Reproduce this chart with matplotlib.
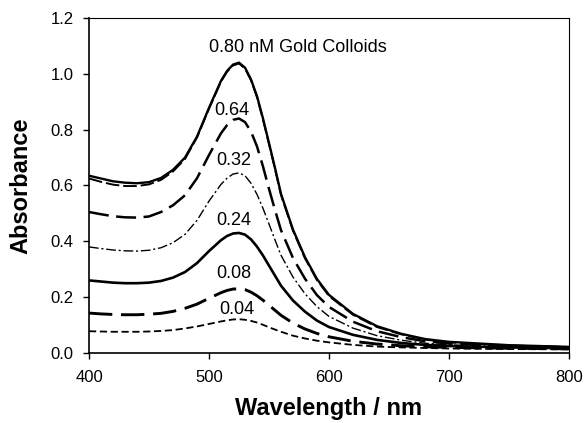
import numpy as np
import matplotlib.pyplot as plt

plt.rcParams["font.family"] = ["Liberation Sans", "DejaVu Sans"]

# wavelength grid (nm)
wavelength = [400, 410, 420, 430, 440, 450, 460, 470, 480, 490, 500, 510,
              515, 520, 525, 530, 535, 540, 545, 550, 555, 560,
              570, 580, 590, 600, 620, 640, 660, 680, 700, 750, 800]

# absorbance
abs_080 = [0.635, 0.625, 0.615, 0.610, 0.608, 0.612, 0.627, 0.656, 0.700, 0.775, 0.878, 0.975,
           1.010, 1.033, 1.040, 1.022, 0.980, 0.920, 0.840, 0.752, 0.663, 0.570,
           0.442, 0.343, 0.265, 0.208, 0.140, 0.096, 0.069, 0.050, 0.040, 0.028, 0.022]
abs_080b = [0.625, 0.613, 0.603, 0.598, 0.598, 0.604, 0.620, 0.650, 0.695, 0.772, 0.875, 0.972,
            1.007, 1.030, 1.037, 1.019, 0.977, 0.916, 0.836, 0.748, 0.659, 0.566,
            0.438, 0.339, 0.261, 0.204, 0.137, 0.093, 0.067, 0.048, 0.038, 0.027, 0.021]
abs_064 = [0.505, 0.497, 0.490, 0.486, 0.485, 0.489, 0.505, 0.529, 0.565, 0.626, 0.709, 0.787,
           0.816, 0.835, 0.840, 0.827, 0.793, 0.740, 0.668, 0.588, 0.512, 0.440,
           0.340, 0.266, 0.207, 0.165, 0.112, 0.078, 0.057, 0.042, 0.034, 0.025, 0.020]
abs_032 = [0.380, 0.374, 0.369, 0.366, 0.365, 0.368, 0.377, 0.395, 0.425, 0.475, 0.544, 0.604,
           0.626, 0.641, 0.645, 0.635, 0.608, 0.568, 0.518, 0.462, 0.405, 0.350,
           0.272, 0.212, 0.166, 0.131, 0.089, 0.062, 0.046, 0.035, 0.029, 0.023, 0.019]
abs_024 = [0.260, 0.256, 0.252, 0.250, 0.250, 0.252, 0.258, 0.270, 0.290, 0.322, 0.365, 0.404,
           0.419, 0.428, 0.430, 0.424, 0.407, 0.381, 0.349, 0.313, 0.277, 0.241,
           0.188, 0.148, 0.116, 0.093, 0.065, 0.047, 0.036, 0.029, 0.025, 0.020, 0.017]
abs_008 = [0.143, 0.140, 0.138, 0.137, 0.137, 0.139, 0.142, 0.149, 0.160, 0.175, 0.196, 0.216,
           0.224, 0.229, 0.230, 0.227, 0.218, 0.205, 0.189, 0.171, 0.153, 0.135,
           0.107, 0.086, 0.070, 0.058, 0.042, 0.032, 0.026, 0.022, 0.020, 0.017, 0.015]
abs_004 = [0.078, 0.077, 0.076, 0.076, 0.076, 0.077, 0.079, 0.082, 0.088, 0.095, 0.104, 0.113,
           0.117, 0.120, 0.121, 0.119, 0.115, 0.109, 0.101, 0.092, 0.084, 0.076,
           0.062, 0.052, 0.044, 0.038, 0.029, 0.023, 0.020, 0.018, 0.016, 0.014, 0.013]

labels = ["0.80 nM Gold Colloids", "0.64", "0.32", "0.24", "0.08", "0.04"]
label_x = [574, 519, 521, 521, 521, 523]
label_y = [1.095, 0.867, 0.688, 0.473, 0.285, 0.156]

fig = plt.figure(figsize=(5.84, 4.23), dpi=100)
ax = fig.add_axes([0.1524, 0.1655, 0.8219, 0.792])

ax.plot(wavelength, abs_080b, color="black", lw=1.4, dashes=(7, 2))
ax.plot(wavelength, abs_080, color="black", lw=1.7)
ax.plot(wavelength, abs_064, color="black", lw=1.8, dashes=(8, 3))
ax.plot(wavelength, abs_032, color="black", lw=1.0, dashes=(7, 2, 1.5, 2))
ax.plot(wavelength, abs_024, color="black", lw=1.9)
ax.plot(wavelength, abs_008, color="black", lw=2.1, dashes=(8, 3))
ax.plot(wavelength, abs_004, color="black", lw=1.3, dashes=(4, 2))

for t, x, y in zip(labels, label_x, label_y):
    ax.text(x, y, t, ha="center", va="center", fontsize=13)

ax.set_xlim(400, 800)
ax.set_ylim(0, 1.2)
ax.set_xticks([400, 500, 600, 700, 800])
ax.set_yticks([0.0, 0.2, 0.4, 0.6, 0.8, 1.0, 1.2])
ax.set_yticklabels(["0.0", "0.2", "0.4", "0.6", "0.8", "1.0", "1.2"])
ax.tick_params(direction="out", length=4, width=1, labelsize=12)
ax.tick_params(axis="x", pad=8)
ax.tick_params(axis="y", pad=7)
for s in ax.spines.values():
    s.set_linewidth(0.8)
ax.spines["left"].set_linewidth(1.2)
ax.spines["bottom"].set_linewidth(1.2)

ax.set_xlabel("Wavelength / nm", fontsize=17, fontweight="bold")
ax.set_ylabel("Absorbance", fontsize=17, fontweight="bold")
ax.xaxis.set_label_coords(0.5, -0.13)
ax.yaxis.set_label_coords(-0.118, 0.5)

fig.savefig("out.png", dpi=100)
